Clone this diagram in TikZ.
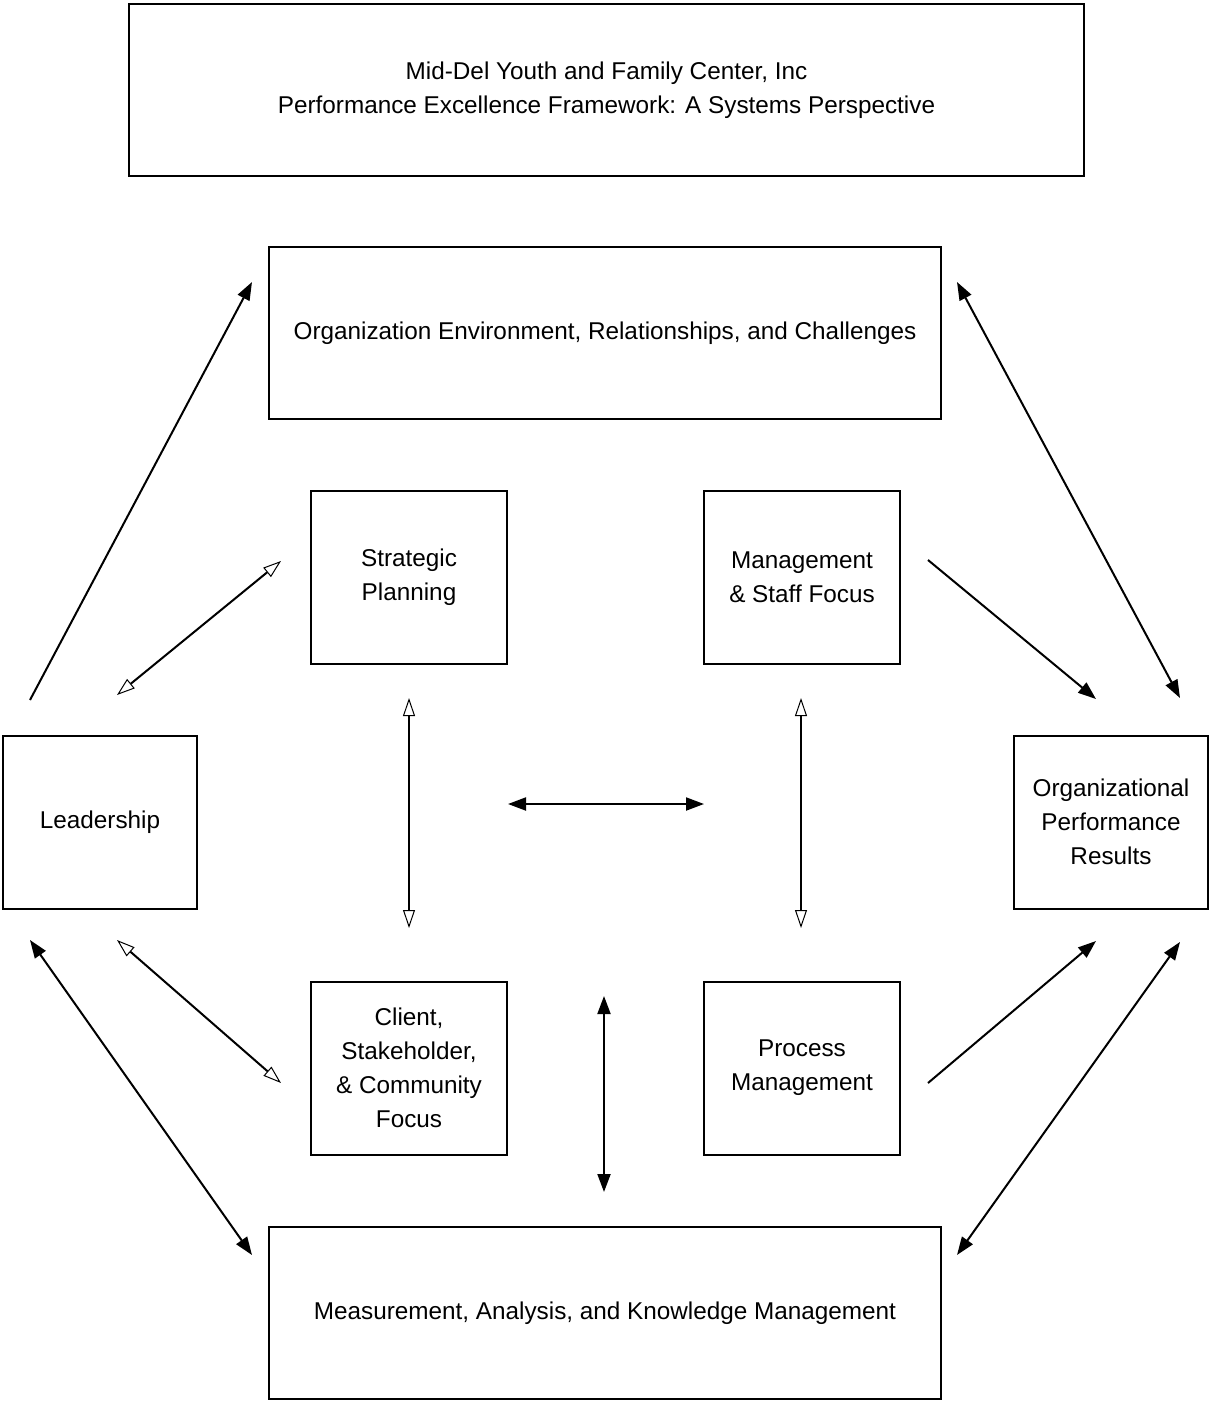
\documentclass[tikz,border=0pt]{standalone}
\usepackage{fontspec}
\setmainfont{Liberation Sans}
\usetikzlibrary{arrows.meta}
\begin{document}
\begin{tikzpicture}
[x=1pt,y=-1pt,
every node/.style={draw,line width=2pt,align=center,inner sep=0pt,
  font=\fontsize{24.3}{34}\selectfont},
small box/.style={minimum width=196pt,minimum height=173pt},
wide box/.style={minimum width=672pt,minimum height=172pt},
full/.style={line width=2pt,-{Triangle[length=18pt,width=13pt]}},
full both/.style={line width=2pt,{Triangle[length=18pt,width=13pt]}-{Triangle[length=18pt,width=13pt]}},
open both/.style={line width=2pt,{Triangle[open,length=18pt,width=12pt,line width=1pt]}-{Triangle[open,length=18pt,width=12pt,line width=1pt]}}]
\useasboundingbox (0,0) rectangle (1209,1401);
\node[minimum width=955pt,minimum height=172pt] (title) at (606.5,90)
  {Mid-Del Youth and Family Center, Inc\\Performance Excellence Framework: A Systems Perspective};
\node[wide box] (env) at (605,333) {Organization Environment, Relationships, and Challenges};
\node[wide box] (measure) at (605,1313) {Measurement, Analysis, and Knowledge Management};
\node[small box] (plan) at (409,577) {Strategic\\Planning};
\node[small box] (staff) at (802,577) {Management\\\& Staff Focus};
\node[small box,minimum width=194pt] (lead) at (100,822) {Leadership};
\node[small box,minimum width=194pt] (results) at (1111,822) {Organizational\\Performance\\Results};
\node[small box] (client) at (409,1068) {Client,\\Stakeholder,\\\& Community\\Focus};
\node[small box] (process) at (802,1068) {Process\\Management};
% arrow ends
\coordinate (a1) at (30,700);   \coordinate (a2) at (252,282);
\coordinate (b1) at (117,695);  \coordinate (b2) at (281,561);
\coordinate (c1) at (409,698);  \coordinate (c2) at (409,928);
\coordinate (d1) at (801,698);  \coordinate (d2) at (801,928);
\coordinate (e1) at (508,804);  \coordinate (e2) at (704,804);
\coordinate (f1) at (928,560);  \coordinate (f2) at (1096,699);
\coordinate (g1) at (957,282);  \coordinate (g2) at (1180,698);
\coordinate (h1) at (30,940);   \coordinate (h2) at (252,1255);
\coordinate (i1) at (117,940);  \coordinate (i2) at (281,1083);
\coordinate (j1) at (604,996);  \coordinate (j2) at (604,1192);
\coordinate (k1) at (928,1083); \coordinate (k2) at (1096,941);
\coordinate (m1) at (957,1255); \coordinate (m2) at (1180,942);
\draw[full] (a1) -- (a2);
\draw[open both] (b1) -- (b2);
\draw[open both] (c1) -- (c2);
\draw[open both] (d1) -- (d2);
\draw[full both] (e1) -- (e2);
\draw[full] (f1) -- (f2);
\draw[full both] (g1) -- (g2);
\draw[full both] (h1) -- (h2);
\draw[open both] (i1) -- (i2);
\draw[full both] (j1) -- (j2);
\draw[full] (k1) -- (k2);
\draw[full both] (m1) -- (m2);
\end{tikzpicture}
\end{document}
